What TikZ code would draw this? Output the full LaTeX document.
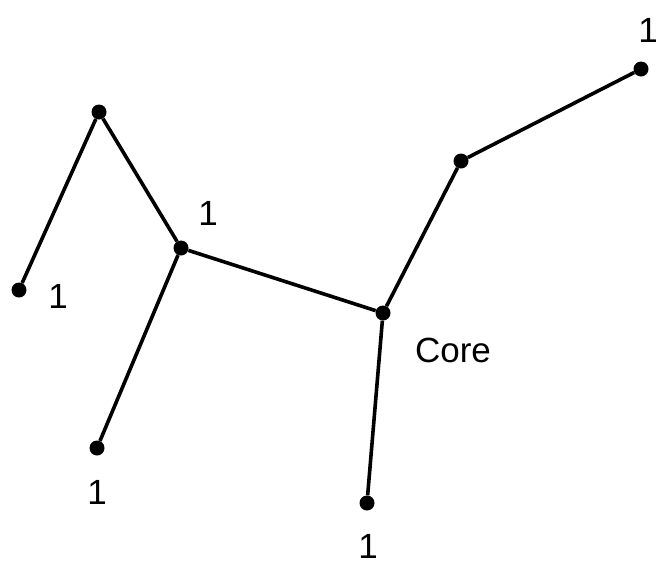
\documentclass[tikz,border=0pt]{standalone}
\usepackage{fontspec}
\setmainfont{Liberation Sans}
\begin{document}
\begin{tikzpicture}[x=1pt,y=-1pt,
  vtx/.style={circle,fill=black,inner sep=0pt,minimum size=15pt},
  edge/.style={line width=3.6pt},
  lbl/.style={font=\fontsize{35}{38}\selectfont,inner sep=0pt}]
\useasboundingbox (0,0) rectangle (658,566);
\node[vtx] (A) at (99,112) {};
\node[vtx] (B) at (19,290) {};
\node[vtx] (C) at (181,248) {};
\node[vtx] (D) at (97,448) {};
\node[vtx] (K) at (383,313) {};
\node[vtx] (E) at (367,503) {};
\node[vtx] (F) at (461,161) {};
\node[vtx] (G) at (641,69) {};
\draw[edge] (B) -- (A) -- (C) -- (K) -- (F) -- (G);
\draw[edge] (C) -- (D);
\draw[edge] (K) -- (E);
\node[lbl] (lB) at (58,296) {1};
\node[lbl] (lC) at (208,213) {1};
\node[lbl] (lD) at (97,492) {1};
\node[lbl] (lK) at (453,350) {Core};
\node[lbl] (lE) at (368,546) {1};
\node[lbl] (lG) at (648,30) {1};
\end{tikzpicture}
\end{document}
